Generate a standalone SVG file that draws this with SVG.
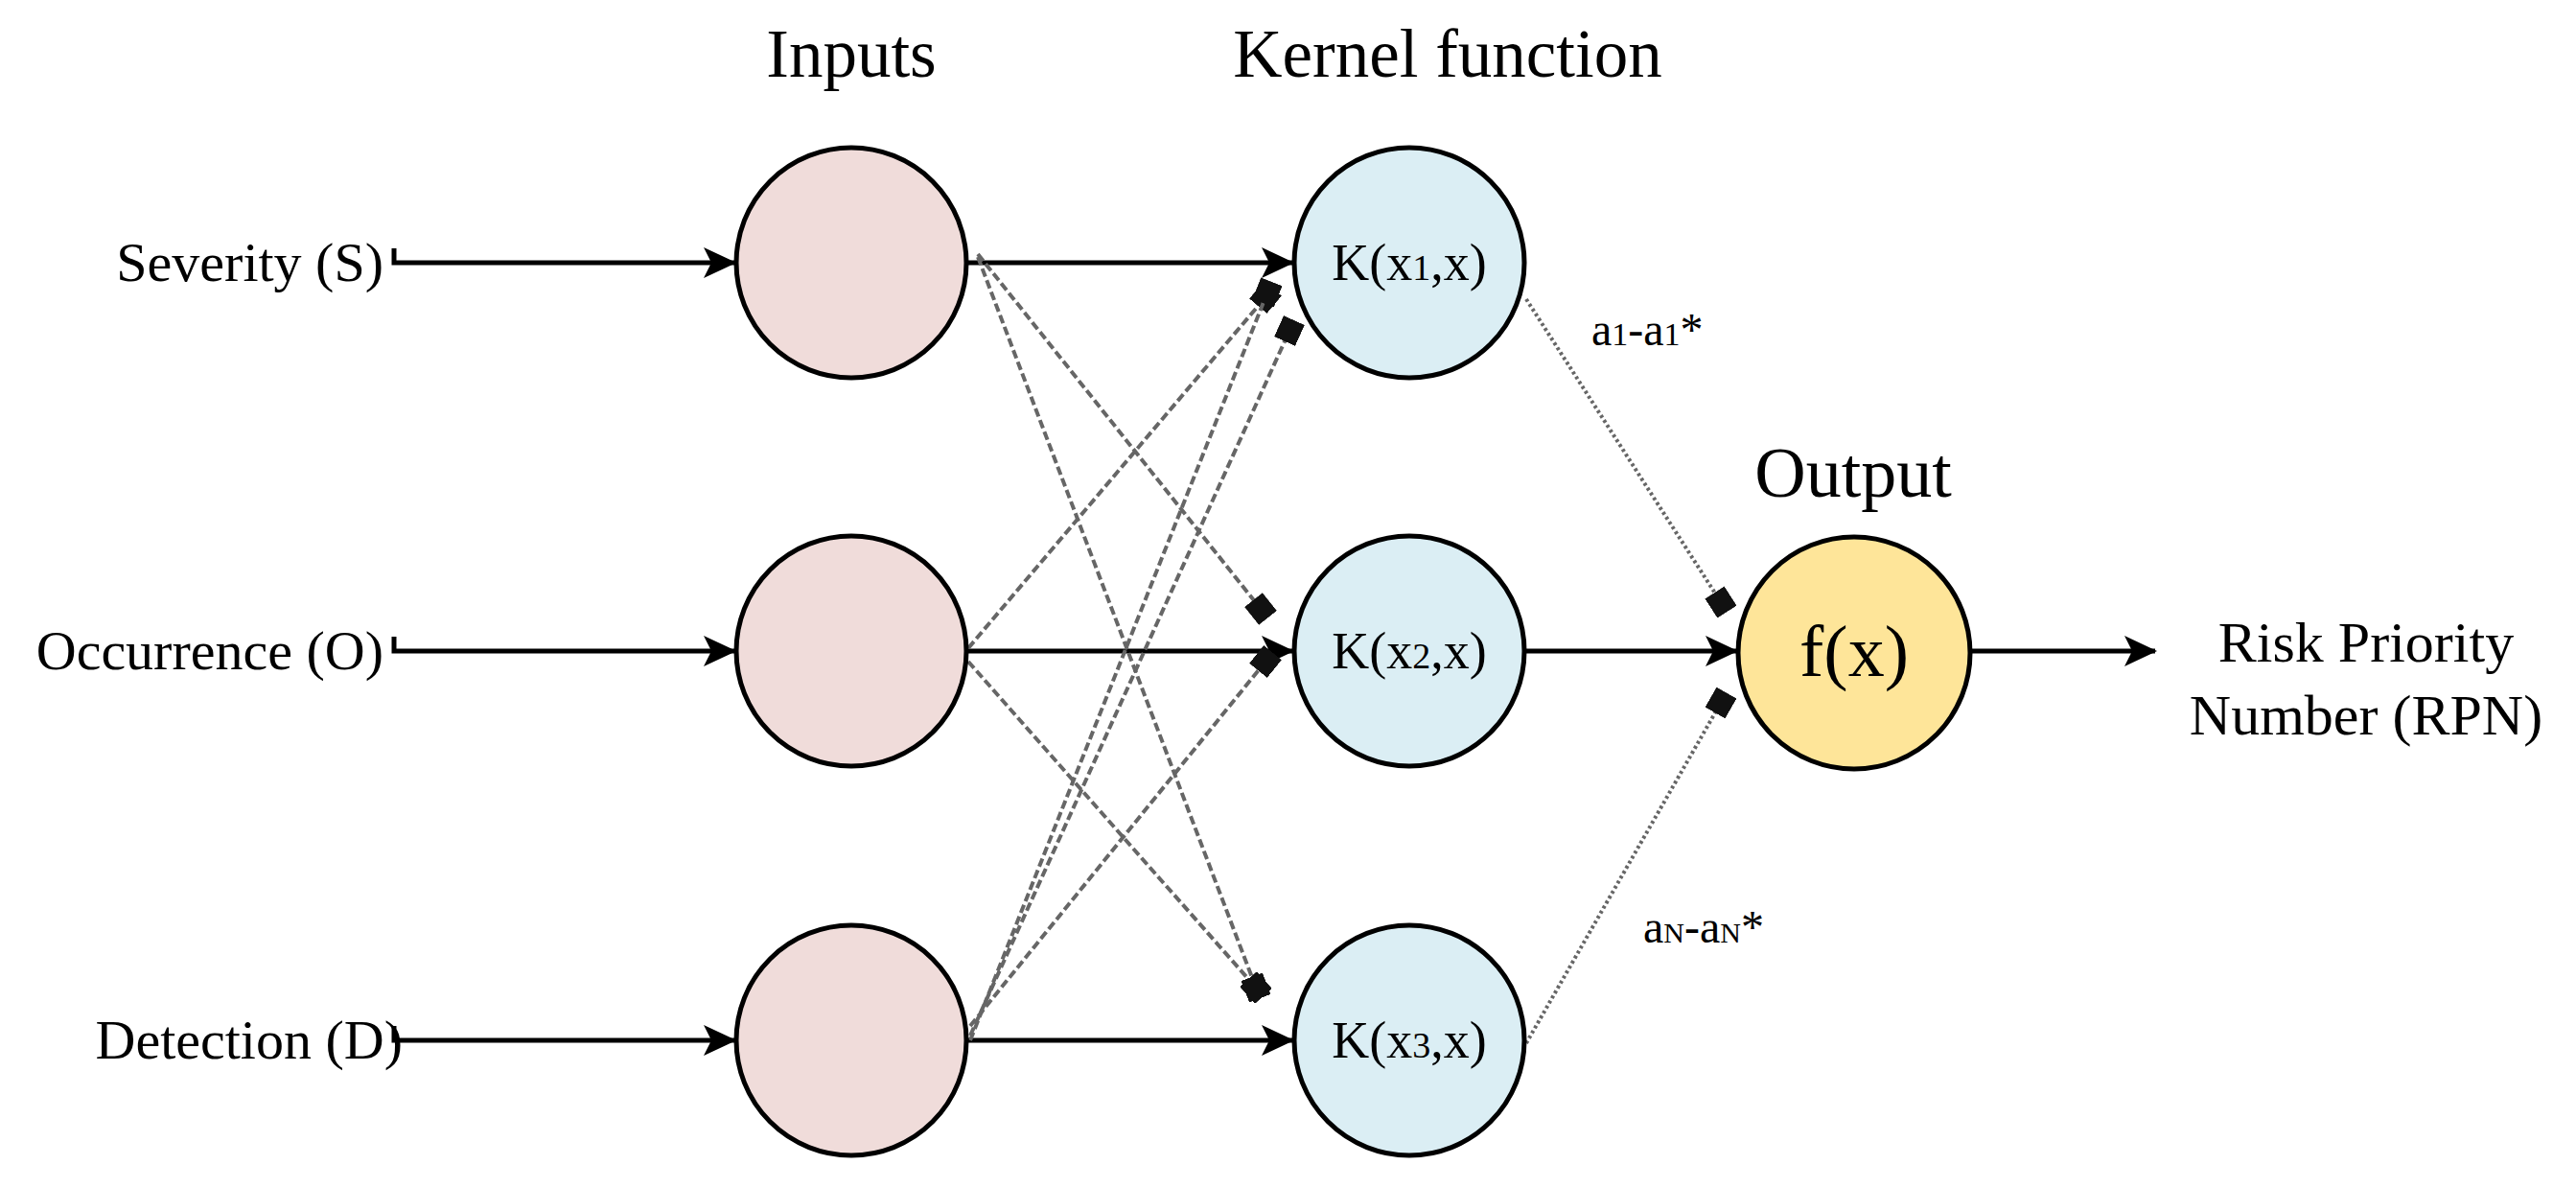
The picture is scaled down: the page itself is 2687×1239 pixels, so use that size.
<svg xmlns="http://www.w3.org/2000/svg" width="2687" height="1239" viewBox="0 0 2687 1239">
<style>
text{font-family:"Liberation Serif","Times New Roman",serif;fill:#000}
.in{fill:#f0dcda;stroke:#000;stroke-width:5}
.k{fill:#dbeef4;stroke:#000;stroke-width:5}
.o{fill:#fee599;stroke:#000;stroke-width:5}
.d{stroke:#666;stroke-width:4;stroke-dasharray:9 4;fill:none;marker-end:url(#q)}
.t{stroke:#666;stroke-width:4;stroke-dasharray:3 3;fill:none;marker-end:url(#q)}
</style>
<defs>
<marker id="q" markerWidth="6" markerHeight="6" refX="3" refY="3" orient="auto" viewBox="0 0 6 6"><rect x="0" y="0" width="6" height="6" fill="#111"/></marker>
</defs>
<rect width="2687" height="1239" fill="#fff"/>
<text x="888" y="80" font-size="71" text-anchor="middle">Inputs</text>
<text x="1510" y="80" font-size="71" text-anchor="middle">Kernel function</text>
<text x="1933" y="518" font-size="74" text-anchor="middle">Output</text>
<g id="connectors">
<path d="M411,259 V274 H766" stroke="#000" stroke-width="5" fill="none"/><path d="M734,258 L768,274 L734,290 L742,274 Z"/>
<path d="M411,664 V679 H766" stroke="#000" stroke-width="5" fill="none"/><path d="M734,663 L768,679 L734,695 L742,679 Z"/>
<path d="M411,1070 V1085 H766" stroke="#000" stroke-width="5" fill="none"/><path d="M734,1069 L768,1085 L734,1101 L742,1085 Z"/>
<path d="M1008,274 H1348" stroke="#000" stroke-width="5"/><path d="M1316,258 L1350,274 L1316,290 L1324,274 Z"/>
<path d="M1008,679 H1348" stroke="#000" stroke-width="5"/><path d="M1316,663 L1350,679 L1316,695 L1324,679 Z"/>
<path d="M1008,1085 H1348" stroke="#000" stroke-width="5"/><path d="M1316,1069 L1350,1085 L1316,1101 L1324,1085 Z"/>
<path d="M1590,679 H1811" stroke="#000" stroke-width="5"/><path d="M1779,663 L1813,679 L1779,695 L1787,679 Z"/>
<path d="M2055,679 H2248" stroke="#000" stroke-width="5"/><path d="M2216,663 L2250,679 L2216,695 L2224,679 Z"/>
<path class="d" d="M1020,265 L1315,635"/>
<path class="d" d="M1020,268 L1310,1030"/>
<path class="d" d="M1010,676 L1320,310"/>
<path class="d" d="M1010,690 L1310,1030"/>
<path class="d" d="M1012,1085 L1322,305"/>
<path class="d" d="M1012,1080 L1345,345"/>
<path class="d" d="M1012,1070 L1320,690"/>
<path class="t" d="M1592,312 L1795,628"/>
<path class="t" d="M1592,1088 L1795,733"/>
</g>
<g id="inS"><circle class="in" cx="888" cy="274" r="120"/><text x="400" y="293" font-size="58" text-anchor="end">Severity (S)</text></g>
<g id="inO"><circle class="in" cx="888" cy="679" r="120"/><text x="400" y="698" font-size="58" text-anchor="end">Occurrence (O)</text></g>
<g id="inD"><circle class="in" cx="888" cy="1085" r="120"/><text x="420" y="1104" font-size="58" text-anchor="end">Detection (D)</text></g>
<g id="k1"><circle class="k" cx="1470" cy="274" r="120"/><text x="1470" y="292" font-size="54" text-anchor="middle">K(x<tspan font-size="38">1</tspan>,x)</text></g>
<g id="k2"><circle class="k" cx="1470" cy="679" r="120"/><text x="1470" y="697" font-size="54" text-anchor="middle">K(x<tspan font-size="38">2</tspan>,x)</text></g>
<g id="k3"><circle class="k" cx="1470" cy="1085" r="120"/><text x="1470" y="1103" font-size="54" text-anchor="middle">K(x<tspan font-size="38">3</tspan>,x)</text></g>
<g id="out"><circle class="o" cx="1934" cy="681" r="121"/><text x="1934" y="705" font-size="76" text-anchor="middle">f(x)</text></g>
<g id="rpn"><text x="2468" y="690" font-size="60" text-anchor="middle">Risk Priority</text><text x="2468" y="766" font-size="60" text-anchor="middle">Number (RPN)</text></g>
<text x="1660" y="360" font-size="48">a<tspan font-size="34">1</tspan>-a<tspan font-size="34">1</tspan>*</text>
<text x="1714" y="983" font-size="48">a<tspan font-size="30">N</tspan>-a<tspan font-size="30">N</tspan>*</text>
</svg>
